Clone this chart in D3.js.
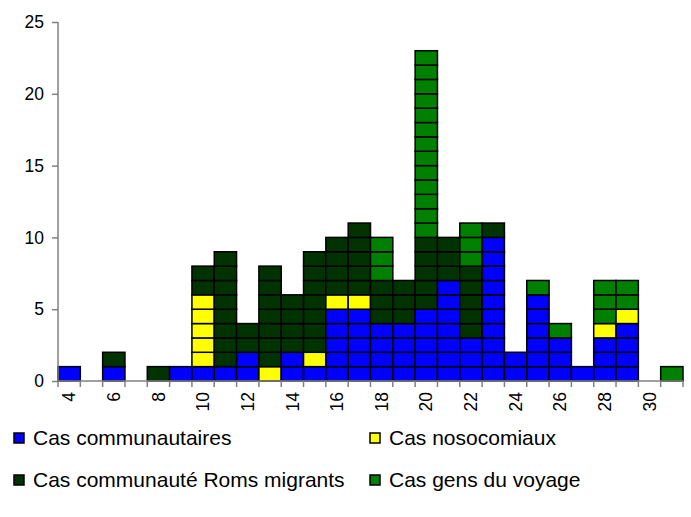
<!DOCTYPE html>
<html>
<head>
<meta charset="utf-8">
<script src="https://cdn.jsdelivr.net/npm/d3@7"></script>
<style>
  html, body { margin: 0; padding: 0; background: #fff; }
  svg { display: block; font-family: "Liberation Sans", Arial, sans-serif; }
</style>
</head>
<body>
<svg id="chart" width="691" height="517"></svg>
<script>
// ---- Data ----
const weeks = [4,5,6,7,8,9,10,11,12,13,14,15,16,17,18,19,20,21,22,23,24,25,26,27,28,29,30,31];
const communautaires = [1,0,1,0,0,1,1,1,2,0,2,1,5,5,4,4,5,7,3,10,2,6,3,1,3,4,0,0];
const nosocomiaux    = [0,0,0,0,0,0,5,0,0,1,0,1,1,1,0,0,0,0,0,0,0,0,0,0,1,1,0,0];
const romsMigrants   = [0,0,1,0,1,0,2,8,2,7,4,7,4,5,3,3,5,3,5,1,0,0,0,0,0,0,0,0];
const gensDuVoyage   = [0,0,0,0,0,0,0,0,0,0,0,0,0,0,3,0,13,0,3,0,0,1,1,0,3,2,0,1];
const tickLabelsX = [4,6,8,10,12,14,16,18,20,22,24,26,28,30];
const tickValuesY = [0,5,10,15,20,25];
const seriesNames = ["Cas communautaires","Cas nosocomiaux","Cas communauté Roms migrants","Cas gens du voyage"];
const seriesColors = ["#0000FF","#FFFF00","#003300","#008000"];

const seriesValues = [communautaires, nosocomiaux, romsMigrants, gensDuVoyage];

const svg = d3.select("#chart");

const x = d3.scaleBand().domain(weeks).range([58, 683]).padding(0);
const y = d3.scaleLinear().domain([0, 25]).range([381, 22]);

// Build unit cells
const cells = [];
weeks.forEach((w, i) => {
  let base = 0;
  seriesValues.forEach((vals, s) => {
    for (let k = 0; k < vals[i]; k++) {
      cells.push({ week: w, s: s, y0: base, y1: base + 1 });
      base += 1;
    }
  });
});

svg.append("g").selectAll("rect").data(cells).enter().append("rect")
  .attr("x", d => x(d.week))
  .attr("width", x.bandwidth())
  .attr("y", d => y(d.y1))
  .attr("height", d => y(d.y0) - y(d.y1))
  .attr("fill", d => seriesColors[d.s])
  .attr("stroke", "#000")
  .attr("stroke-width", 1.5);

// Y axis
const yAxis = svg.append("g")
  .attr("transform", "translate(58,0)")
  .call(d3.axisLeft(y).tickValues(tickValuesY).tickSize(6).tickPadding(8).tickFormat(d3.format("d")));
yAxis.select(".domain").attr("stroke", "#808080").attr("stroke-width", 1.5).attr("d", `M0,${y(25)}V${y(0)}`);
yAxis.selectAll(".tick line").attr("stroke", "#808080").attr("stroke-width", 1.5);
yAxis.selectAll(".tick text").attr("font-size", 17.5).attr("fill", "#000")
  .attr("font-family", "Liberation Sans, Arial, sans-serif");

// X axis line and boundary ticks
const xg = svg.append("g");
xg.append("line")
  .attr("x1", x.range()[0]).attr("x2", x.range()[1])
  .attr("y1", y(0)).attr("y2", y(0))
  .attr("stroke", "#808080").attr("stroke-width", 1.5);
const bounds = weeks.map(w => x(w)).concat([x(weeks[weeks.length - 1]) + x.bandwidth()]);
xg.selectAll("line.tk").data(bounds).enter().append("line")
  .attr("class", "tk")
  .attr("x1", d => d).attr("x2", d => d)
  .attr("y1", y(0)).attr("y2", y(0) + 6)
  .attr("stroke", "#808080").attr("stroke-width", 1.5);

// X labels (rotated)
const xAxis = svg.append("g")
  .attr("transform", `translate(0,${y(0)})`)
  .call(d3.axisBottom(x).tickValues(tickLabelsX).tickSize(0).tickPadding(0));
xAxis.select(".domain").remove();
xAxis.selectAll(".tick text")
  .attr("font-size", 17.5).attr("fill", "#000")
  .attr("font-family", "Liberation Sans, Arial, sans-serif")
  .attr("transform", "rotate(-90)")
  .attr("text-anchor", "end")
  .attr("x", -11)
  .attr("y", 0)
  .attr("dy", "0.35em");

// Legend
const legendItems = [
  { name: seriesNames[0], color: seriesColors[0], lx: 14, ly: 438 },
  { name: seriesNames[1], color: seriesColors[1], lx: 370, ly: 438 },
  { name: seriesNames[2], color: seriesColors[2], lx: 14, ly: 480 },
  { name: seriesNames[3], color: seriesColors[3], lx: 370, ly: 480 }
];
const lg = svg.append("g").selectAll("g").data(legendItems).enter().append("g")
  .attr("transform", d => `translate(${d.lx},${d.ly})`);
lg.append("rect")
  .attr("x", 0).attr("y", -5).attr("width", 10).attr("height", 10)
  .attr("fill", d => d.color).attr("stroke", "#000").attr("stroke-width", 1.5);
lg.append("text")
  .attr("x", 19).attr("y", 0).attr("dy", "0.35em")
  .attr("font-size", 21).attr("fill", "#000")
  .text(d => d.name);
</script>
</body>
</html>
